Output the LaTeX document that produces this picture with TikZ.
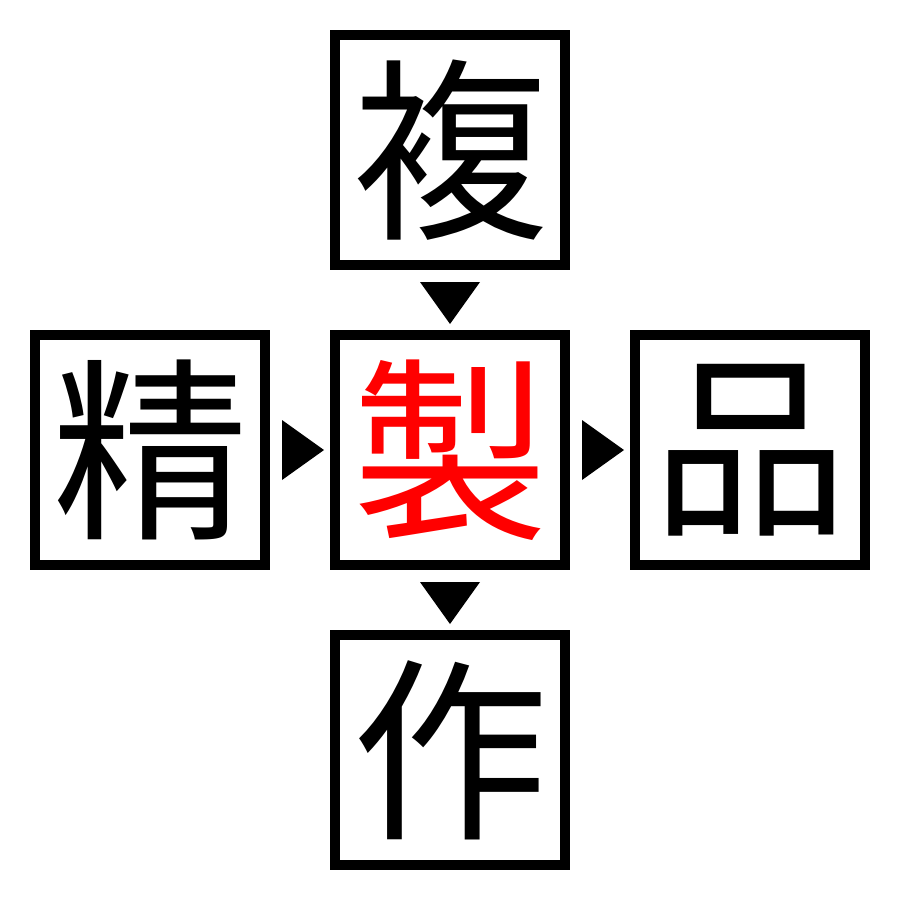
\documentclass[tikz,border=0pt]{standalone}
\usepackage{fontspec}
\newfontfamily\jpfont{Noto Sans CJK JP}
\usetikzlibrary{calc}
\definecolor{kred}{RGB}{255,0,0}
\begin{document}
\begin{tikzpicture}[x=1pt,y=-1pt,
  kbox/.style={draw=black,line width=10pt,minimum size=230pt,inner sep=0pt,
    font=\jpfont\fontsize{196pt}{196pt}\selectfont},
  tri/.style={fill=black}]
\useasboundingbox (0,0) rectangle (900,900);
\node[kbox] (t) at (450,150) {複};
\node[kbox] (l) at (150,450) {精};
\node[kbox,text=kred] (c) at (450,450) {製};
\node[kbox] (r) at (750,450) {品};
\node[kbox] (b) at (450,750) {作};
\coordinate (m1) at ($(t.south)!0.5!(c.north)$);
\coordinate (m2) at ($(l.east)!0.5!(c.west)$);
\coordinate (m3) at ($(c.east)!0.5!(r.west)$);
\coordinate (m4) at ($(c.south)!0.5!(b.north)$);
\fill[tri] (m1) ++(-30,-18) -- ++(60,0) -- ++(-30,42) -- cycle;
\fill[tri] (m2) ++(-18,-30) -- ++(0,60) -- ++(42,-30) -- cycle;
\fill[tri] (m3) ++(-18,-30) -- ++(0,60) -- ++(42,-30) -- cycle;
\fill[tri] (m4) ++(-30,-18) -- ++(60,0) -- ++(-30,42) -- cycle;
\end{tikzpicture}
\end{document}
